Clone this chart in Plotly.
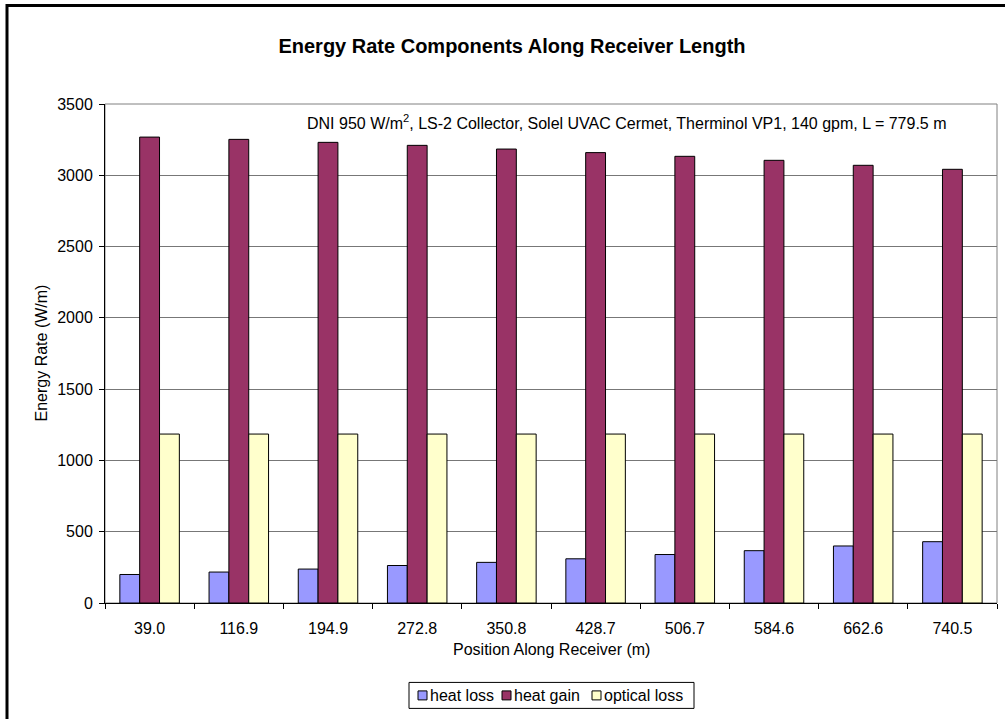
import plotly.graph_objects as go

# Positions along the receiver (m) and energy rate components (W/m)
positions = ["39.0", "116.9", "194.9", "272.8", "350.8", "428.7", "506.7", "584.6", "662.6", "740.5"]
heat_loss = [200, 217, 238, 263, 285, 310, 340, 367, 400, 430]
heat_gain = [3268, 3252, 3231, 3210, 3184, 3159, 3133, 3105, 3070, 3042]
optical_loss = [1185, 1185, 1185, 1185, 1185, 1185, 1185, 1185, 1185, 1185]

series_names = ["heat loss", "heat gain", "optical loss"]
series_colors = ["#9999FF", "#993366", "#FFFFCC"]

FONT = "Liberation Sans, Arial, sans-serif"

fig = go.Figure()
for name, vals, color in zip(series_names, [heat_loss, heat_gain, optical_loss], series_colors):
    fig.add_trace(go.Bar(
        x=positions, y=vals, name=name,
        marker=dict(color=color, line=dict(color="black", width=1)),
    ))

W, H = 1005, 719
L, R, T, B = 105, 8, 104, 115.5
pw, ph = W - L - R, H - T - B

def px(x):
    return (x - L) / pw

def py(y):
    return (H - B - y) / ph

fig.update_layout(
    width=W, height=H,
    margin=dict(l=L, r=R, t=T, b=B, pad=0),
    paper_bgcolor="white", plot_bgcolor="white",
    font=dict(family=FONT, size=16, color="black"),
    barmode="group", bargap=0.333, bargroupgap=0,
    title=dict(text="<b>Energy Rate Components Along Receiver Length</b>",
               x=512 / W, xref="container", xanchor="center",
               y=1 - 46 / H, yref="container", yanchor="middle",
               font=dict(family=FONT, size=20, color="black")),
    xaxis=dict(type="category", showline=True, linecolor="black", linewidth=1,
               ticks="outside", tickson="boundaries", ticklen=5, tickcolor="black",
               showgrid=False, tickfont=dict(size=16), ticklabelstandoff=11),
    yaxis=dict(range=[0, 3500], dtick=500, showline=True, linecolor="black", linewidth=1,
               ticks="outside", ticklen=5, tickcolor="black",
               showgrid=True, gridcolor="#777777", gridwidth=1,
               zeroline=False, tickfont=dict(size=16), ticklabelstandoff=3),
    showlegend=False,
)

fig.add_annotation(text="DNI 950 W/m<sup>2</sup>, LS-2 Collector, Solel UVAC Cermet, Therminol VP1, 140 gpm, L = 779.5 m",
                   xref="paper", yref="paper", x=px(305), y=py(122),
                   xanchor="left", yanchor="middle", showarrow=False,
                   font=dict(size=16))
fig.add_annotation(text="Energy Rate (W/m)", textangle=-90,
                   xref="paper", yref="paper", x=px(41), y=0.5,
                   xanchor="center", yanchor="middle", showarrow=False,
                   font=dict(size=16))
fig.add_annotation(text="Position Along Receiver (m)",
                   xref="paper", yref="paper", x=0.5, y=py(650),
                   xanchor="center", yanchor="middle", showarrow=False,
                   font=dict(size=16))

# Plot-area frame (grey) and chart-area frame (black)
fig.add_shape(type="rect", xref="paper", yref="paper", x0=0, x1=1, y0=0, y1=1,
              line=dict(color="#808080", width=1), layer="below")
fig.add_shape(type="rect", xref="paper", yref="paper",
              x0=px(7), x1=px(1015), y0=py(730), y1=py(5.5),
              line=dict(color="black", width=3))

# Compact boxed legend below the axis title
fig.add_shape(type="rect", xref="paper", yref="paper",
              x0=px(409), x1=px(694), y0=py(709), y1=py(683),
              line=dict(color="black", width=1), fillcolor="white")
legend_x = [418, 502, 592]
for lx, name, color in zip(legend_x, series_names, series_colors):
    fig.add_shape(type="rect", xref="paper", yref="paper",
                  x0=px(lx), x1=px(lx + 9), y0=py(700.5), y1=py(691.5),
                  line=dict(color="black", width=1), fillcolor=color)
    fig.add_annotation(text=name, xref="paper", yref="paper",
                       x=px(lx + 10), y=py(696), xanchor="left", yanchor="middle",
                       showarrow=False, font=dict(size=16))

fig.write_html("out.html")
